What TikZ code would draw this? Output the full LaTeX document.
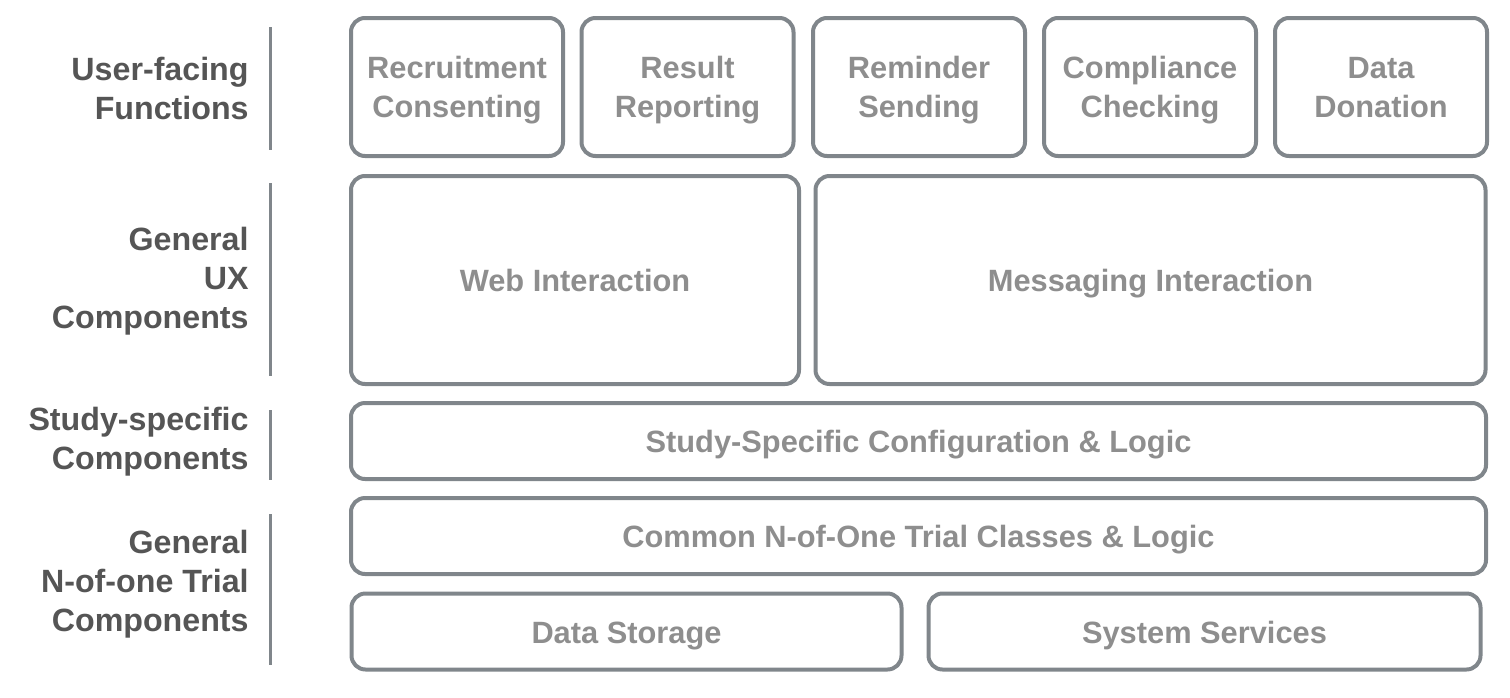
\documentclass[tikz,border=0pt]{standalone}
\usepackage{fontspec}
\setmainfont{Liberation Sans}
\usetikzlibrary{shapes}
\definecolor{myline}{RGB}{128, 134, 139}
\definecolor{mytext}{RGB}{142, 142, 142}
\definecolor{mylabel}{RGB}{85, 85, 85}

\begin{document}
\begin{tikzpicture}[x=0.5pt,y=-0.5pt]

\tikzstyle{layer} = [draw=myline, line width=2pt, rounded corners=7pt, text=mytext,
font=\fontsize{15.4}{19.5}\selectfont\bfseries, align=center, inner sep=0]
\tikzstyle{small-b} = [layer, minimum width=106pt, minimum height=69pt, text height=32.5pt, text depth=2pt]
\tikzstyle{wide-b} = [layer, minimum height=38pt, text height=13.5pt, text depth=2pt]
\tikzstyle{label-t} = [anchor=east, align=right, text=mylabel, inner sep=0,
font=\fontsize{16.1}{19.5}\selectfont\bfseries]
\tikzstyle{bar} = [draw=myline, line width=1.5pt]

\useasboundingbox (0,0) rectangle (1510,697);

% user-facing functions
\node [small-b] (recruit) at (457,87) {Recruitment\\Consenting};
\node [small-b] (result) at (687.5,87) {Result\\Reporting};
\node [small-b] (remind) at (919,87) {Reminder\\Sending};
\node [small-b] (comply) at (1150,87) {Compliance\\Checking};
\node [small-b] (donate) at (1381,87) {Data\\Donation};

% general ux
\node [wide-b, minimum width=224pt, minimum height=104pt] (web) at (575,280) {Web Interaction};
\node [wide-b, minimum width=335pt, minimum height=104pt] (msg) at (1150.5,280) {Messaging Interaction};

% study-specific
\node [wide-b, minimum width=567.5pt] (config) at (918.5,441) {Study-Specific Configuration \& Logic};

% n-of-one
\node [wide-b, minimum width=567.5pt] (common) at (918.5,536) {Common N-of-One Trial Classes \& Logic};
\node [wide-b, minimum width=275pt] (storage) at (626.5,631.5) {Data Storage};
\node [wide-b, minimum width=276pt] (services) at (1204.5,631.5) {System Services};

% labels
\node [label-t] (lab1) at (249,88) {User-facing\\Functions};
\node [label-t] (lab2) at (249,281) {General\\UX\\Components};
\node [label-t] (lab3) at (249,442) {Study-specific\\Components};
\node [label-t] (lab4) at (249,584) {General\\N-of-one Trial\\Components};

\draw [bar] (270,27) -- (270,150);
\draw [bar] (270,183) -- (270,376);
\draw [bar] (270,410) -- (270,480);
\draw [bar] (270,514) -- (270,665);

\end{tikzpicture}
\end{document}
